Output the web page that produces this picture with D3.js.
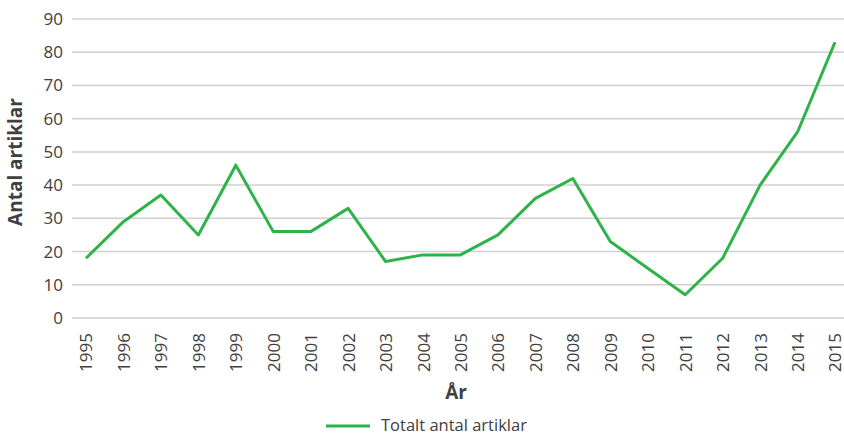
<!DOCTYPE html>
<html>
<head>
<meta charset="utf-8">
<script src="https://cdn.jsdelivr.net/npm/d3@7"></script>
<style>
  body { margin: 0; background: #fff; }
  text { font-family: "Open Sans", "Noto Sans", sans-serif; fill: #404040; }
</style>
</head>
<body>
<svg id="chart"></svg>
<script>
// Antal artiklar per år
const years  = ["1995","1996","1997","1998","1999","2000","2001","2002","2003","2004","2005",
                "2006","2007","2008","2009","2010","2011","2012","2013","2014","2015"];
const totals = [18, 29, 37, 25, 46, 26, 26, 33, 17, 19, 19, 25, 36, 42, 23, 15, 7, 18, 40, 56, 83];
const yTicks = [0, 10, 20, 30, 40, 50, 60, 70, 80, 90];

const W = 844, H = 435;
const LINE_COLOR = "#2db34a";

const svg = d3.select("#chart").attr("width", W).attr("height", H);

const x = d3.scalePoint().domain(years).range([86, 835]);
const y = d3.scaleLinear().domain([0, 90]).range([318, 19]);

// gridlines
svg.append("g")
  .selectAll("line")
  .data(yTicks).enter().append("line")
  .attr("x1", 72).attr("x2", W)
  .attr("y1", d => y(d)).attr("y2", d => y(d))
  .attr("stroke", "#d0d0d0").attr("stroke-width", 1.5);

// y axis labels
const yAxis = svg.append("g")
  .attr("transform", "translate(63,0)")
  .call(d3.axisLeft(y).tickValues(yTicks).tickSize(0).tickPadding(0));
yAxis.select(".domain").remove();
yAxis.selectAll("text")
  .attr("font-size", 17).attr("fill", "#404040")
  .style("font-family", "'Open Sans', 'Noto Sans', sans-serif");

// x axis labels (rotated)
const xAxis = svg.append("g")
  .attr("transform", "translate(0,318)")
  .call(d3.axisBottom(x).tickSize(0).tickPadding(0));
xAxis.select(".domain").remove();
xAxis.selectAll("text")
  .attr("font-size", 17).attr("fill", "#404040")
  .style("font-family", "'Open Sans', 'Noto Sans', sans-serif")
  .attr("transform", "rotate(-90)")
  .attr("text-anchor", "end")
  .attr("x", -15).attr("y", 0).attr("dy", "0.35em");

// line
const line = d3.line()
  .x((d, i) => x(years[i]))
  .y(d => y(d));

svg.append("path")
  .datum(totals)
  .attr("d", line)
  .attr("fill", "none")
  .attr("stroke", LINE_COLOR)
  .attr("stroke-width", 3)
  .attr("stroke-linejoin", "round");

// axis titles
svg.append("text")
  .attr("transform", "translate(22,162) rotate(-90)")
  .attr("text-anchor", "middle")
  .attr("font-size", 19).attr("font-weight", "bold").attr("fill", "#222")
  .text("Antal artiklar");

svg.append("text")
  .attr("x", 456).attr("y", 399)
  .attr("text-anchor", "middle")
  .attr("font-size", 19).attr("font-weight", "bold").attr("fill", "#222")
  .text("År");

// legend
const legend = svg.append("g").attr("transform", "translate(326,426)");
legend.append("line")
  .attr("x1", 0).attr("x2", 44).attr("y1", 0).attr("y2", 0)
  .attr("stroke", LINE_COLOR).attr("stroke-width", 3);
legend.append("text")
  .attr("x", 55).attr("y", 0).attr("dy", "0.33em")
  .attr("font-size", 16.5)
  .text("Totalt antal artiklar");
</script>
</body>
</html>
